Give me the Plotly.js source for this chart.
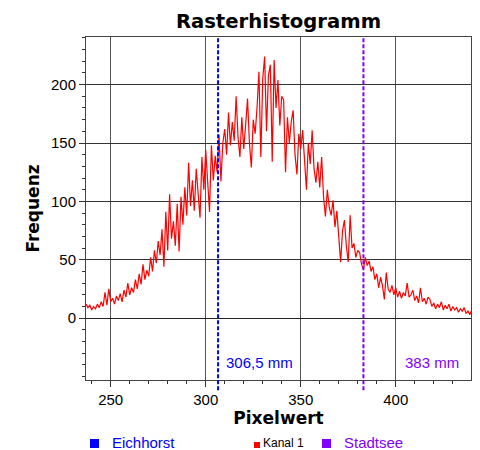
<!DOCTYPE html>
<html>
<head>
<meta charset="utf-8">
<script src="https://cdn.plot.ly/plotly-3.0.1.min.js"></script>
<style>
  html, body { margin: 0; padding: 0; background: #fff; }
  #chart { width: 480px; height: 450px; }
</style>
</head>
<body>
<div id="chart"></div>
<script>
// Histogram of channel 1: one count per pixel value, starting at firstBin
const firstBin = 237;
const frequency = [
  12, 9, 11, 7, 10, 8, 12, 9, 14, 10,
  22, 11, 25, 14, 17, 12, 19, 15, 21, 14,
  24, 18, 30, 20, 26, 22, 33, 25, 38, 29,
  46, 33, 41, 36, 52, 40, 58, 47, 66, 54,
  76, 44, 91, 58, 106, 68, 83, 62, 98, 57,
  104, 80, 112, 88, 133, 96, 118, 92, 128, 105,
  86, 138, 110, 144, 120, 91, 148, 118, 139, 125,
  157, 117, 150, 162, 140, 176, 148, 168, 152, 190,
  155, 138, 172, 145, 165, 188, 150, 129, 170, 158,
  180, 211, 138, 205, 224, 160, 208, 217, 134, 221,
  180, 204, 165, 190, 187, 125, 172, 150, 168, 178,
  140, 123, 158, 145, 161, 130, 110, 150, 132, 161,
  128, 116, 134, 112, 138, 104, 87, 110, 95, 88,
  101, 78, 92, 70, 48, 75, 84, 62, 48, 88,
  60, 64, 52, 58, 56, 46, 42, 52, 45, 49,
  40, 44, 33, 38, 26, 35, 28, 16, 39, 25,
  22, 28, 20, 26, 18, 23, 17, 22, 19, 30,
  18, 20, 24, 15, 19, 13, 26, 14, 17, 12,
  18, 16, 10, 13, 8, 12, 9, 14, 7, 11,
  8, 12, 6, 10, 7, 9, 5, 8, 6, 9,
  4, 6, 3, 7
];

// Reference markers drawn as dashed vertical lines
const markerValues = [306.5, 383];
const markerLabels = ['306,5 mm', '383 mm'];
const markerColors = ['#0000ff', '#8000ff'];
const markerLabelShift = [6, 40];

// Legend row under the chart
const legendNames = ['Eichhorst', 'Kanal 1', 'Stadtsee'];
const legendColors = ['#0000ff', '#ff0000', '#8000ff'];
const legendTextColors = ['#0000ff', '#000000', '#8000ff'];

const xTicks = [250, 300, 350, 400];
const yTicks = [0, 50, 100, 150, 200];

const FONT = 'Liberation Sans';
const BOLD_FONT = 'DejaVu Sans';
const pixelValues = frequency.map((_, i) => firstBin + i);

const trace = {
  x: pixelValues,
  y: frequency,
  type: 'scatter',
  mode: 'lines',
  line: { color: '#ff0000', width: 1.2 },
  name: 'Kanal 1',
  showlegend: false,
  hoverinfo: 'x+y'
};

const shapes = markerValues.map((v, i) => ({
  type: 'line', xref: 'x', yref: 'paper',
  x0: v, x1: v, y0: -0.03, y1: 1,
  line: { color: markerColors[i], width: 2, dash: '4px,2px' }
}));

const annotations = markerValues.map((v, i) => ({
  x: v, xref: 'x', y: -38, yref: 'y',
  xanchor: 'left', yanchor: 'middle', xshift: markerLabelShift[i],
  text: markerLabels[i], showarrow: false,
  font: { family: FONT, size: 15, color: markerColors[i] }
}));

// legend squares and names (paper coordinates below the plot area)
const legendX = [0.0104, 0.4364, 0.613];
const legendBox = [9, 6, 9];
const legendTextX = [0.0624, 0.4546, 0.665];
const legendFont = [15, 12, 15];
legendNames.forEach((name, i) => {
  const w = legendBox[i] / 385, h = legendBox[i] / 343;
  const yBottom = -0.1983;
  shapes.push({
    type: 'rect', xref: 'paper', yref: 'paper',
    x0: legendX[i], x1: legendX[i] + w,
    y0: yBottom, y1: yBottom + h,
    fillcolor: legendColors[i], line: { width: 0 }
  });
  annotations.push({
    x: legendTextX[i], xref: 'paper', y: -0.1836, yref: 'paper',
    xanchor: 'left', yanchor: 'middle', showarrow: false,
    text: name,
    font: { family: FONT, size: legendFont[i], color: legendTextColors[i] }
  });
});

const layout = {
  width: 480, height: 450,
  margin: { l: 86, r: 9, t: 37, b: 70 },
  paper_bgcolor: '#ffffff', plot_bgcolor: '#ffffff',
  font: { family: FONT, color: '#000' },
  showlegend: false,
  title: {
    text: 'Rasterhistogramm',
    font: { family: BOLD_FONT, size: 19.6, weight: 'bold', color: '#000' },
    xref: 'paper', x: 0.5, xanchor: 'center',
    yref: 'container', y: 0.953, yanchor: 'middle'
  },
  xaxis: {
    range: [237, 439.6],
    tickmode: 'array', tickvals: xTicks,
    ticks: 'outside', ticklen: 6, tickcolor: '#333',
    showline: true, mirror: true, linecolor: '#444', linewidth: 1,
    showgrid: true, gridcolor: '#555', gridwidth: 1,
    zeroline: false,
    minor: { tick0: 0, dtick: 10, ticks: 'outside', ticklen: 3, tickcolor: '#333', showgrid: false },
    tickfont: { family: FONT, size: 15, color: '#000' },
    title: { text: 'Pixelwert', standoff: 4,
      font: { family: BOLD_FONT, size: 17, weight: 'bold', color: '#000' } }
  },
  yaxis: {
    range: [-53, 240.8],
    tickmode: 'array', tickvals: yTicks,
    ticks: 'outside', ticklen: 6, tickcolor: '#333',
    showline: true, mirror: true, linecolor: '#444', linewidth: 1,
    showgrid: true, gridcolor: '#333', gridwidth: 1,
    zeroline: true, zerolinecolor: '#222', zerolinewidth: 1,
    minor: { tick0: 0, dtick: 10, ticks: 'outside', ticklen: 3, tickcolor: '#333', showgrid: false },
    tickfont: { family: FONT, size: 15, color: '#000' },
    title: { text: 'Frequenz', standoff: 7,
      font: { family: BOLD_FONT, size: 17, weight: 'bold', color: '#000' } }
  },
  shapes: shapes,
  annotations: annotations
};

Plotly.newPlot('chart', [trace], layout, { displayModeBar: false, staticPlot: true });
</script>
</body>
</html>
